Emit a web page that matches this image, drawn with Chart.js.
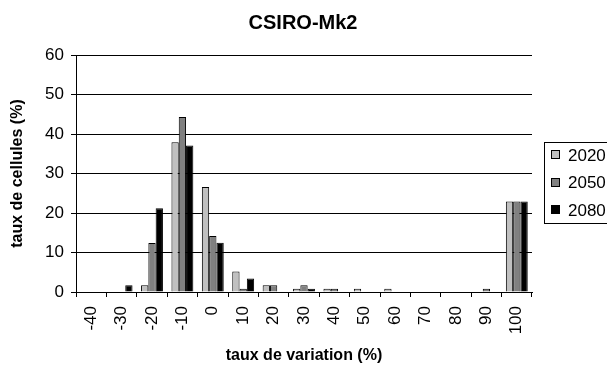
<!DOCTYPE html>
<html>
<head>
<meta charset="utf-8">
<script src="https://cdn.jsdelivr.net/npm/chart.js@4/dist/chart.umd.min.js"></script>
<style>
  html, body { margin: 0; padding: 0; background: #fff; }
  #wrap { width: 607px; height: 369px; }
</style>
</head>
<body>
<div id="wrap"><canvas id="chart" width="607" height="369"></canvas></div>
<script>
// classes de taux de variation (%)
const categories = ["-40", "-30", "-20", "-10", "0", "10", "20", "30", "40", "50", "60", "70", "80", "90", "100"];

// pourcentage de cellules par classe, pour chaque horizon
const values2020 = [0, 0, 1.7, 37.9, 26.6, 5.2, 1.7, 0.85, 0.85, 0.85, 0.85, 0, 0, 0, 22.9];
const values2050 = [0, 0, 12.4, 44.3, 14.2, 0.85, 1.7, 1.7, 0.85, 0, 0, 0, 0, 0.85, 22.9];
const values2080 = [0, 1.7, 21.2, 37.1, 12.5, 3.4, 0, 0.85, 0, 0, 0, 0, 0, 0, 22.9];

const seriesLabels = ["2020", "2050", "2080"];
const seriesColors = ["#c0c0c0", "#808080", "#000000"];

const yTicks = [0, 10, 20, 30, 40, 50, 60];

const FONT = "'Liberation Sans', Arial, sans-serif";

// titre centré sur toute la largeur
const chartTitle = {
  id: "chartTitle",
  afterDraw(chart) {
    const ctx = chart.ctx;
    ctx.save();
    ctx.font = "bold 20px " + FONT;
    ctx.fillStyle = "#000";
    ctx.textAlign = "center";
    ctx.textBaseline = "middle";
    ctx.fillText("CSIRO-Mk2", 303, 23);
    ctx.restore();
  }
};

// légende encadrée, à droite du graphique
const boxLegend = {
  id: "boxLegend",
  afterDraw(chart) {
    const ctx = chart.ctx;
    const x = 544, y = 142, w = 70, h = 81;
    ctx.save();
    ctx.fillStyle = "#fff";
    ctx.fillRect(x, y, w, h);
    ctx.strokeStyle = "#000";
    ctx.lineWidth = 1;
    ctx.strokeRect(x + 0.5, y + 0.5, w, h);
    ctx.font = "17px " + FONT;
    ctx.textBaseline = "middle";
    chart.data.datasets.forEach((ds, i) => {
      const cy = 155 + i * 27.5;
      const sy = Math.round(cy) - 4.5;
      ctx.fillStyle = ds.backgroundColor;
      ctx.fillRect(551.5, sy, 8, 8);
      ctx.strokeStyle = "#000";
      ctx.strokeRect(551.5, sy, 8, 8);
      ctx.fillStyle = "#000";
      ctx.fillText(ds.label, 568, cy + 1);
    });
    ctx.restore();
  }
};

const datasets = [values2020, values2050, values2080].map((data, i) => ({
  label: seriesLabels[i],
  data: data,
  backgroundColor: seriesColors[i],
  borderColor: "#000",
  borderWidth: 1,
  categoryPercentage: 0.72,
  barPercentage: 1.0
}));

new Chart(document.getElementById("chart"), {
  type: "bar",
  data: { labels: categories, datasets: datasets },
  plugins: [chartTitle, boxLegend],
  options: {
    responsive: false,
    animation: false,
    layout: { padding: { left: 0, right: 75, top: 55, bottom: 0 } },
    plugins: {
      legend: { display: false },
      tooltip: { enabled: false }
    },
    scales: {
      x: {
        offset: true,
        grid: { display: true, drawOnChartArea: false, drawTicks: true, tickLength: 5, color: "#000", offset: true },
        border: { display: true, color: "#000", width: 1 },
        ticks: { color: "#000", font: { family: FONT, size: 17 }, minRotation: 90, maxRotation: 90, padding: 9, autoSkip: false },
        title: {
          display: true,
          text: "taux de variation (%)",
          color: "#000",
          font: { family: FONT, size: 16, weight: "bold", lineHeight: 1.2 },
          padding: { top: 0, bottom: 4 }
        },
        afterFit(scale) { scale.height = 77; }
      },
      y: {
        min: 0,
        max: 60,
        afterBuildTicks(scale) { scale.ticks = yTicks.map(v => ({ value: v })); },
        grid: { color: "#000", tickLength: 5, drawTicks: true },
        border: { display: true, color: "#000", width: 1 },
        ticks: { color: "#000", font: { family: FONT, size: 17 }, padding: 7 },
        title: {
          display: true,
          text: "taux de cellules (%)",
          color: "#000",
          font: { family: FONT, size: 16, weight: "bold", lineHeight: 1.2 },
          padding: { top: 8, bottom: 0 }
        },
        afterFit(scale) { scale.width = 76; }
      }
    }
  }
});
</script>
</body>
</html>
